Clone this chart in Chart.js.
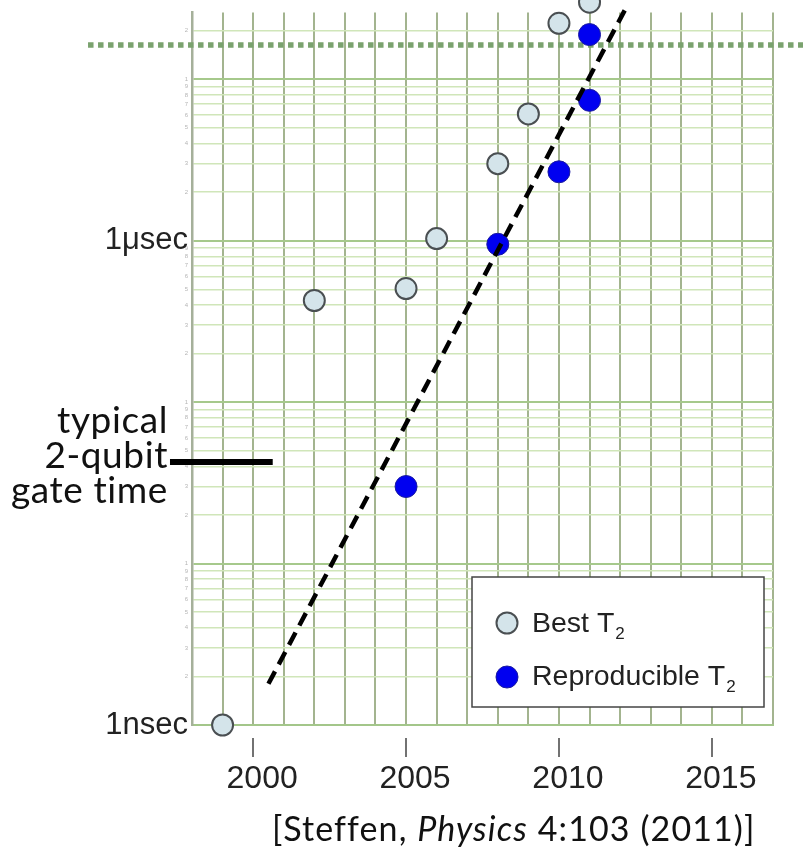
<!DOCTYPE html>
<html>
<head>
<meta charset="utf-8">
<script src="https://cdn.jsdelivr.net/npm/chart.js@4.4.0/dist/chart.umd.min.js"></script>
<style>
  body { margin: 0; background: #fff; }
  #wrap { position: relative; width: 803px; height: 851px; }
  canvas { position: absolute; left: 0; top: 0; }
  .note { position: absolute; font-family: Lato, 'Open Sans', sans-serif; color: #111; white-space: nowrap; }
  #gate { right: 635px; top: 401px; font-size: 37px; line-height: 35px; letter-spacing: 0.6px; text-align: right; }
  #cite { left: 272px; top: 808px; font-size: 34px; line-height: 40px; letter-spacing: 1.1px; }
</style>
</head>
<body>
<div id="wrap">
  <canvas id="chart" width="803" height="851"></canvas>
  <div class="note" id="gate">typical<br>2-qubit<br>gate time</div>
  <div class="note" id="cite">[Steffen, <i>Physics</i> 4:103 (2011)]</div>
</div>
<script>
// T2 times in ns
const bestYears = [1999, 2002, 2005, 2006, 2008, 2009, 2010, 2011]
const bestT2 = [1, 426, 505, 1030, 3000, 6100, 22200, 30000]
const reproYears = [2005, 2008, 2010, 2011, 2011]
const reproT2 = [30, 950, 2670, 7400, 18900]

// dashed trend line (end points)
const trendYears = [2000.5, 2012.15]
const trendT2 = [1.8, 26700]

// "typical 2-qubit gate time" marker
const gateYears = [1997.28, 2000.64]
const gateT2 = [42.6, 42.6]

// dotted threshold line
const thresholdYears = [1994.6, 2018.2]
const thresholdT2 = [16300, 16300]

const xTickLabels = [2000, 2005, 2010, 2015]
const yTickLabels = { 1: '1nsec', 1000: '1μsec' }

const FONT = "'Liberation Sans', Arial, sans-serif"

const toPts = (xs, ys) => xs.map((x, i) => ({ x, y: ys[i] }))
const mantissa = v => Math.round(v / Math.pow(10, Math.floor(Math.log10(v) + 1e-9)))

// legend drawn inside the plot, bottom right
const legendBox = {
    id: 'legendBox',
    afterDraw(chart) {
        const { ctx, chartArea } = chart
        const w = 292, h = 130
        const x = chartArea.right - 9 - w
        const y = chartArea.bottom - 18 - h
        ctx.save()
        ctx.fillStyle = '#fff'
        ctx.fillRect(x, y, w, h)
        ctx.strokeStyle = '#444'
        ctx.lineWidth = 1.5
        ctx.strokeRect(x, y, w, h)
        ;[2, 1].forEach((di, k) => {
            const ds = chart.data.datasets[di]
            const cy = y + 46 + k * 54
            ctx.beginPath()
            ctx.arc(x + 35, cy, ds.pointRadius, 0, Math.PI * 2)
            ctx.fillStyle = ds.backgroundColor
            ctx.fill()
            ctx.lineWidth = ds.borderWidth
            ctx.strokeStyle = ds.borderColor
            ctx.stroke()
            const main = ds.label.replace('₂', '')
            const base = y + 55 + k * 53
            ctx.fillStyle = '#222'
            ctx.textAlign = 'left'
            ctx.textBaseline = 'alphabetic'
            ctx.font = `28.5px ${FONT}`
            ctx.fillText(main, x + 60, base)
            if (ds.label.includes('₂')) {
                const tw = ctx.measureText(main).width
                ctx.font = `17px ${FONT}`
                ctx.fillText('2', x + 60 + tw + 1, base + 7)
            }
        })
        ctx.restore()
    }
}

new Chart(document.getElementById('chart'), {
    type: 'scatter',
    data: {
        datasets: [
            {
                label: 'trend',
                data: toPts(trendYears, trendT2),
                showLine: true,
                borderColor: '#000',
                borderWidth: 4.5,
                borderDash: [14, 8],
                pointRadius: 0,
                clip: false
            },
            {
                label: 'Reproducible T₂',
                data: toPts(reproYears, reproT2),
                pointRadius: 11,
                backgroundColor: '#0000f0',
                borderColor: '#1b1b9e',
                borderWidth: 1,
                clip: false
            },
            {
                label: 'Best T₂',
                data: toPts(bestYears, bestT2),
                pointRadius: 10.5,
                backgroundColor: '#d4e4ea',
                borderColor: '#4a4f52',
                borderWidth: 2,
                clip: false
            },
            {
                label: 'gate',
                data: toPts(gateYears, gateT2),
                showLine: true,
                borderColor: '#000',
                borderWidth: 6,
                pointRadius: 0,
                clip: false
            },
            {
                label: 'threshold',
                data: toPts(thresholdYears, thresholdT2),
                showLine: true,
                borderColor: '#7aa26e',
                borderWidth: 5.5,
                borderDash: [5.5, 4.5],
                pointRadius: 0,
                clip: false
            }
        ]
    },
    options: {
        responsive: false,
        animation: false,
        events: [],
        layout: { padding: { top: 10, right: 30, left: 0, bottom: 0 } },
        plugins: {
            legend: { display: false },
            tooltip: { enabled: false }
        },
        scales: {
            x: {
                type: 'linear',
                min: 1998,
                max: 2017,
                afterFit: s => { s.height = 126 },
                ticks: {
                    stepSize: 1,
                    autoSkip: false,
                    maxRotation: 0,
                    padding: 3,
                    labelOffset: 9,
                    color: '#222',
                    font: { family: FONT, size: 32 },
                    callback: v => xTickLabels.includes(v) ? String(v) : ''
                },
                grid: {
                    color: '#a3b48f',
                    lineWidth: 2,
                    tickLength: 32,
                    tickWidth: 1.5,
                    tickBorderDash: [0, 12, 20, 100],
                    tickColor: c => xTickLabels.includes(c.tick.value) ? '#444' : 'rgba(0,0,0,0)'
                },
                border: { color: '#a3c68a', width: 2 }
            },
            y: {
                type: 'logarithmic',
                min: 1,
                max: 25900,
                afterFit: s => { s.width = 192 },
                afterBuildTicks: s => {
                    const ticks = []
                    for (let e = 0; e <= 4; e++) {
                        for (let m = 1; m <= 9; m++) {
                            const v = m * Math.pow(10, e)
                            if (v <= s.max) ticks.push({ value: v })
                        }
                    }
                    s.ticks = ticks
                },
                ticks: {
                    autoSkip: false,
                    padding: 4,
                    color: c => yTickLabels[c.tick.value] ? '#222' : '#b5b5b5',
                    font: c => yTickLabels[c.tick.value]
                        ? { family: FONT, size: 31 }
                        : { family: FONT, size: 6 },
                    callback: v => yTickLabels[v] || String(mantissa(v))
                },
                grid: {
                    drawTicks: false,
                    color: c => mantissa(c.tick.value) === 1 ? '#a6c98c' : '#d0e6b9',
                    lineWidth: c => mantissa(c.tick.value) === 1 ? 2 : 1.5
                },
                border: { color: '#a5b09a', width: 2.5 }
            }
        }
    },
    plugins: [legendBox]
})
</script>
</body>
</html>
